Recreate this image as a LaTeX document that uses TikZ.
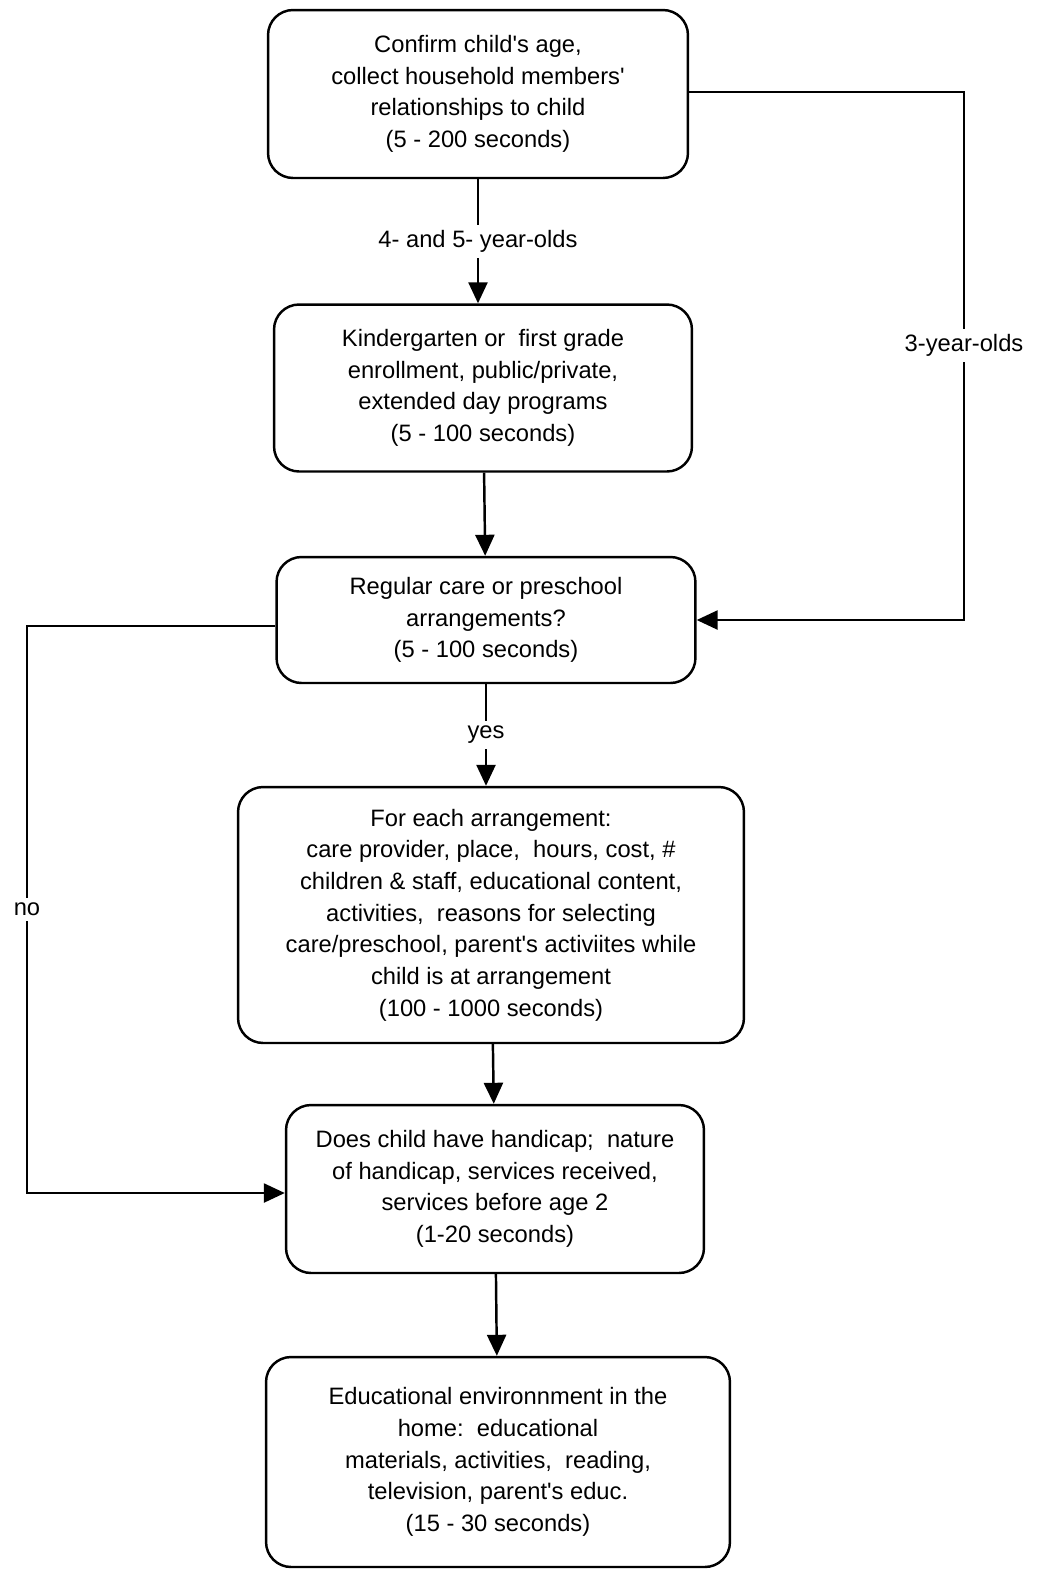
\documentclass[tikz,border=0pt]{standalone}
\usepackage{fontspec}
\setmainfont{Liberation Sans}
\usetikzlibrary{arrows.meta,positioning}

\newcommand{\apos}{\textquotesingle}

\begin{document}
\begin{tikzpicture}[x=0.02cm,y=-0.02cm,
      box/.style={rectangle,rounded corners=0.5cm,draw,line width=1.4pt,align=center,font=\fontsize{13.5}{18}\selectfont},
      lbl/.style={fill=white,inner sep=3pt,font=\fontsize{13.5}{18}\selectfont},
      >={Triangle[length=0.42cm,width=0.38cm]},line width=1.4pt
    ]
    \useasboundingbox (0,0) rectangle (1037,1570);

    \node[box,minimum width=8.4cm,minimum height=3.36cm] (age) at (478,94) {Confirm child\apos s age,\\collect household members\apos\\relationships to child\\(5 - 200 seconds)};
    \node[box,minimum width=8.36cm,minimum height=3.34cm] (kinder) at (483,388) {Kindergarten or\ \ first grade\\enrollment, public/private,\\extended day programs\\(5 - 100 seconds)};
    \node[box,minimum width=8.38cm,minimum height=2.52cm] (care) at (486,620) {Regular care or preschool\\arrangements?\\(5 - 100 seconds)};
    \node[box,minimum width=10.12cm,minimum height=5.12cm] (each) at (491,915) {For each arrangement:\\care provider, place,\ \ hours, cost, \#\\children \& staff, educational content,\\activities,\ \ reasons for selecting\\care/preschool, parent\apos s activiites while\\child is at arrangement\\(100 - 1000 seconds)};
    \node[box,minimum width=8.36cm,minimum height=3.36cm] (handicap) at (495,1189) {Does child have handicap;\ \ nature\\of handicap, services received,\\services before age 2\\(1-20 seconds)};
    \node[box,minimum width=9.28cm,minimum height=4.2cm] (home) at (498,1462) {Educational environnment in the\\home:\ \ educational\\materials, activities,\ \ reading,\\television, parent\apos s educ.\\(15 - 30 seconds)};

    \coordinate (r1) at (964,92);
    \coordinate (r2) at (964,620);
    \coordinate (l1) at (27,626);
    \coordinate (l2) at (27,1193);

    \draw[->] (age.south) -- node[lbl] {4- and 5- year-olds} (age.south |- kinder.north);
    \draw[->] (kinder) -- (care);
    \draw[->] (care.south) -- node[lbl] {yes} (care.south |- each.north);
    \draw[->] (each) -- (handicap);
    \draw[->] (handicap) -- (home);
    \draw[->] (age.east |- r1) -- (r1) -- node[lbl,pos=0.48] {3-year-olds} (r2) -- (care.east);
    \draw[->] (care.west |- l1) -- (l1) -- node[lbl] {no} (l2) -- (handicap.west |- l2);
  \end{tikzpicture}
\end{document}
